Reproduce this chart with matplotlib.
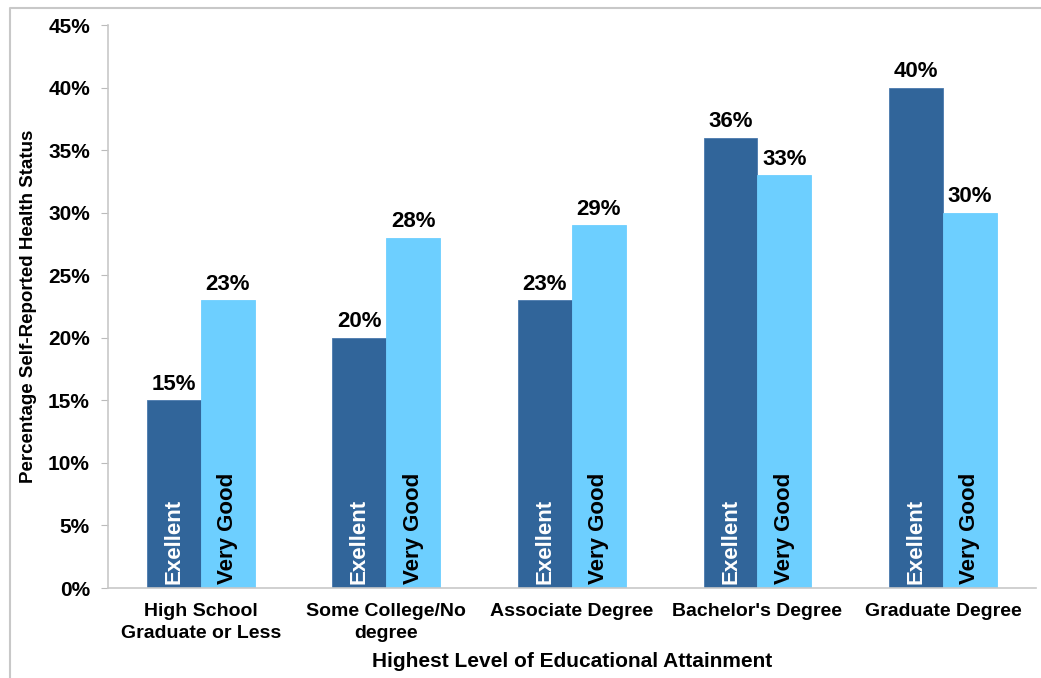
import matplotlib
matplotlib.use("Agg")
import matplotlib.pyplot as plt
from matplotlib.lines import Line2D
import numpy as np

plt.rcParams['font.family'] = ['Liberation Sans', 'DejaVu Sans']

categories = ["High School\nGraduate or Less", "Some College/No\ndegree",
              "Associate Degree", "Bachelor's Degree", "Graduate Degree"]
excellent = [15, 20, 23, 36, 40]
very_good = [23, 28, 29, 33, 30]
series_names = ["Exellent", "Very Good"]
yticks = [0, 5, 10, 15, 20, 25, 30, 35, 40, 45]

dark_blue = "#31659A"
light_blue = "#6DCFFF"

fig = plt.figure(figsize=(10.41, 6.78), dpi=100)
ax = fig.add_axes([0.1037, 0.1327, 0.8913, 0.8303])

x = np.arange(len(categories))
w = 0.29
bars_ex = ax.bar(x - w / 2, excellent, w, color=dark_blue,
                 edgecolor="#4A7AAD", linewidth=0.6)
bars_vg = ax.bar(x + w / 2, very_good, w, color=light_blue,
                 edgecolor=light_blue, linewidth=0.6)

# value labels above bars, series names written inside the bars
for bars, vals, name, tcol in [(bars_ex, excellent, series_names[0], "white"),
                                (bars_vg, very_good, series_names[1], "black")]:
    for b, v in zip(bars, vals):
        cx = b.get_x() + b.get_width() / 2
        ax.annotate(f"{v}%", (cx, v), xytext=(0, 4), textcoords="offset points",
                    ha="center", va="bottom", fontsize=16, fontweight="bold")
        ax.text(cx, 0.35, name, rotation=90, ha="center", va="bottom",
                fontsize=16, fontweight="bold", color=tcol)

ax.set_xlim(-0.5, len(categories) - 0.5)
ax.set_ylim(0, 45)
ax.set_yticks(yticks)
ax.set_yticklabels([f"{t}%" for t in yticks], fontsize=15, fontweight="bold")
ax.set_xticks(x)
ax.set_xticklabels(categories, fontsize=14, fontweight="bold", linespacing=1.35)
ax.tick_params(axis="x", length=0, pad=11)
ax.tick_params(axis="y", length=5, color="#BBBBBB", pad=8)

for side in ["top", "right"]:
    ax.spines[side].set_visible(False)
for side in ["left", "bottom"]:
    ax.spines[side].set_color("#C8C8C8")
    ax.spines[side].set_linewidth(1.2)

ax.set_ylabel("Percentage Self-Reported Health Status", fontsize=13.5,
              fontweight="bold")
ax.yaxis.set_label_coords(-0.086, 0.5)
ax.set_xlabel("Highest Level of Educational Attainment", fontsize=15,
              fontweight="bold")
ax.xaxis.set_label_coords(0.5, -0.131)
ax.xaxis.label.set_va("center")
ax.yaxis.label.set_va("center")

# outer frame on the left and top edges
fig.add_artist(Line2D([10 / 1041, 10 / 1041, 1.0], [0.0, 1 - 8 / 678, 1 - 8 / 678],
                      transform=fig.transFigure, color="#C8C8C8", linewidth=1.5))

fig.savefig("out.png", dpi=100)
